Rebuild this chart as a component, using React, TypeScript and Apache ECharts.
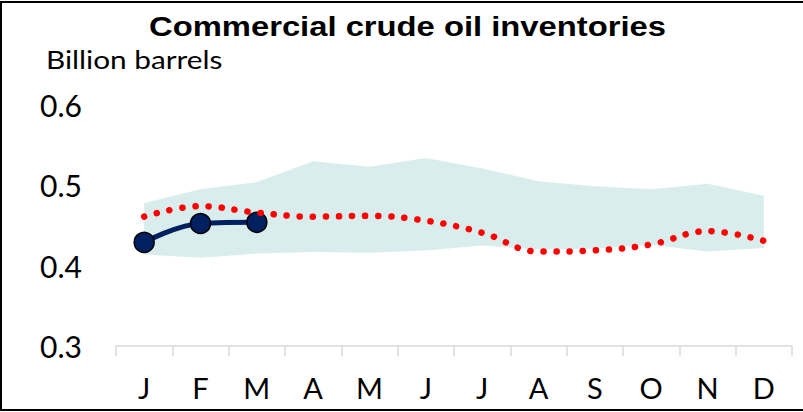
import React, { useEffect, useRef } from "react";
import * as echarts from "echarts";

const months = ["J", "F", "M", "A", "M", "J", "J", "A", "S", "O", "N", "D"];
const actual = [0.429, 0.4525, 0.454];
const forecast = [0.461, 0.474, 0.466, 0.461, 0.462, 0.456, 0.441, 0.4175, 0.419, 0.4265, 0.443, 0.431];
const rangeLow = [0.414, 0.41, 0.415, 0.417, 0.416, 0.419, 0.425, 0.42, 0.421, 0.426, 0.4175, 0.422];
const rangeHigh = [0.478, 0.495, 0.504, 0.53, 0.523, 0.534, 0.521, 0.505, 0.499, 0.495, 0.502, 0.487];
const yTicks = [0.3, 0.4, 0.5, 0.6];

export default function App() {
  const ref = useRef<HTMLDivElement>(null);
  useEffect(() => {
    document.body.style.margin = "0";
    const chart = echarts.init(ref.current!, null, { renderer: "svg" });
    const bandDiff = rangeHigh.map((h, i) => +(h - rangeLow[i]).toFixed(4));
    chart.setOption({
      animation: false,
      backgroundColor: "#ffffff",
      grid: { left: 116, right: 11, top: 105, bottom: 66 },
      graphic: [
        {
          type: "rect",
          shape: { x: 1, y: 2, width: 830, height: 408 },
          style: { fill: "none", stroke: "#000000", lineWidth: 2 },
          silent: true,
        },
        {
          type: "text",
          x: 407.5,
          y: 26,
          scaleX: 1.17,
          style: {
            text: "Commercial crude oil inventories",
            font: "bold 28px 'Liberation Sans', Arial, sans-serif",
            fill: "#000000",
            textAlign: "center",
            textVerticalAlign: "middle",
          },
        },
        {
          type: "text",
          x: 46,
          y: 59,
          scaleX: 1.19,
          style: {
            text: "Billion barrels",
            font: "25px Lato, sans-serif",
            fill: "#000000",
            textAlign: "left",
            textVerticalAlign: "middle",
          },
        },
      ],
      xAxis: {
        type: "category",
        data: months,
        boundaryGap: true,
        axisLine: { lineStyle: { color: "#d9d9d9", width: 1.5 } },
        axisTick: { show: true, length: 10, lineStyle: { color: "#d9d9d9", width: 1.5 } },
        axisLabel: { color: "#000000", fontSize: 29, fontFamily: "Lato, sans-serif", margin: 27 },
        splitLine: { show: false },
      },
      yAxis: {
        type: "value",
        min: 0.3,
        max: 0.6,
        interval: 0.1,
        axisLine: { show: false },
        axisTick: { show: false },
        splitLine: { show: false },
        axisLabel: {
          color: "#000000",
          fontSize: 30,
          fontFamily: "Lato, sans-serif",
          margin: 34,
          formatter: (v: number) => (yTicks.some((t) => Math.abs(t - v) < 1e-6) ? v.toFixed(1) : ""),
        },
      },
      series: [
        {
          type: "line",
          stack: "band",
          data: rangeLow,
          symbol: "none",
          lineStyle: { width: 0, opacity: 0 },
          areaStyle: { opacity: 0 },
          silent: true,
          z: 1,
        },
        {
          type: "line",
          stack: "band",
          data: bandDiff,
          symbol: "none",
          lineStyle: { width: 0, opacity: 0 },
          areaStyle: { color: "#daeded", opacity: 1 },
          silent: true,
          z: 1,
        },
        {
          type: "line",
          data: actual,
          smooth: 0.4,
          symbol: "circle",
          symbolSize: 20,
          lineStyle: { color: "#002060", width: 5 },
          itemStyle: { color: "#002060", borderColor: "#000000", borderWidth: 1.5 },
          z: 3,
        },
        {
          type: "line",
          data: forecast,
          smooth: 0.4,
          symbol: "none",
          lineStyle: { color: "#ff0000", width: 6.5, type: [0.1, 13], cap: "round" },
          z: 4,
        },
      ],
    });
    return () => chart.dispose();
  }, []);
  return <div ref={ref} style={{ width: 803, height: 412 }} />;
}
